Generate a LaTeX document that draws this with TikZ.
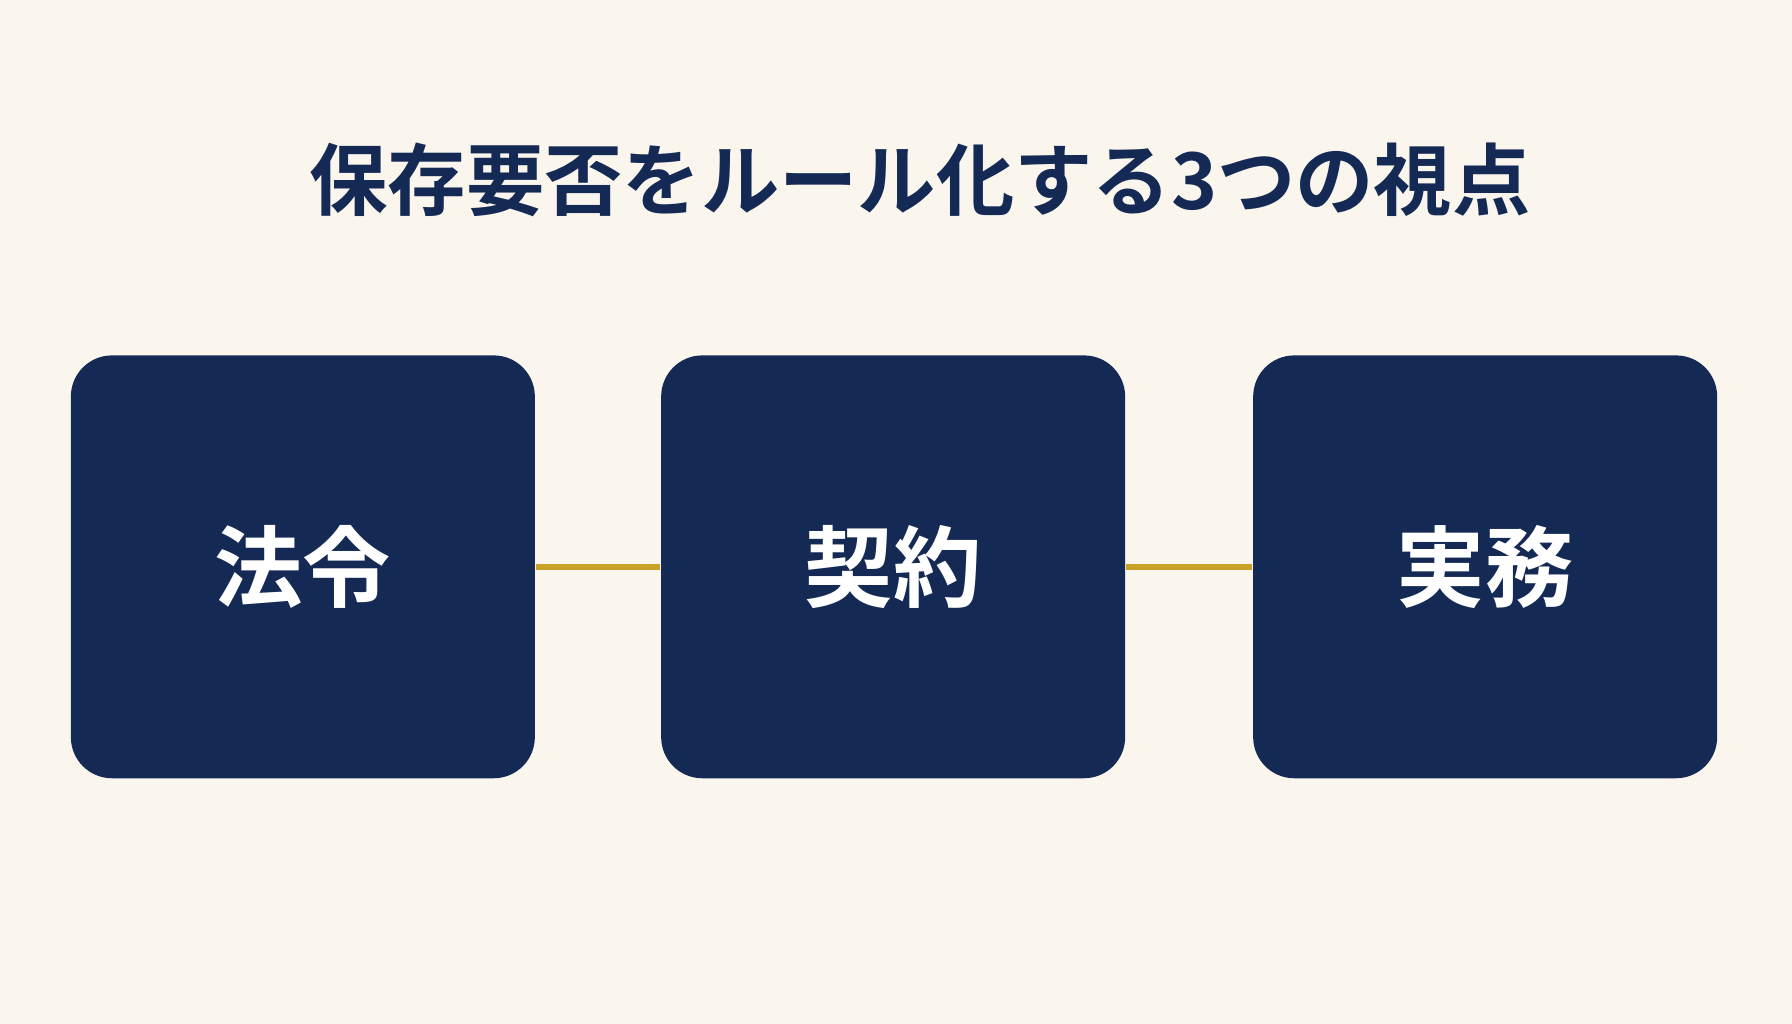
\documentclass[tikz,border=0pt]{standalone}
\usepackage{fontspec}
\newfontfamily\cjk{Noto Sans CJK JP Bold}
\definecolor{bg}{HTML}{FAF6EE}
\definecolor{navy}{HTML}{142A55}
\definecolor{gold}{HTML}{C9A227}
\begin{document}
\begin{tikzpicture}[
  box/.style={fill=navy,draw=none,rounded corners=0.36cm,minimum width=4.06cm,minimum height=3.70cm,inner sep=0pt,text=white,font=\cjk\fontsize{22}{26}\selectfont},
  link/.style={draw=gold,line width=0.05cm}]
\fill[bg] (0,0) rectangle (15.68,8.96);
\useasboundingbox (0,0) rectangle (15.68,8.96);
\node[text=navy,font=\cjk\fontsize{19.5}{24}\selectfont] (title) at (8.05,7.39) {保存要否をルール化する3つの視点};
\node[box] (a) at (2.65,4.00) {法令};
\node[box] (b) at (7.815,4.00) {契約};
\node[box] (c) at (12.995,4.00) {実務};
\draw[link] (a.east) -- (b.west);
\draw[link] (b.east) -- (c.west);
\end{tikzpicture}
\end{document}
